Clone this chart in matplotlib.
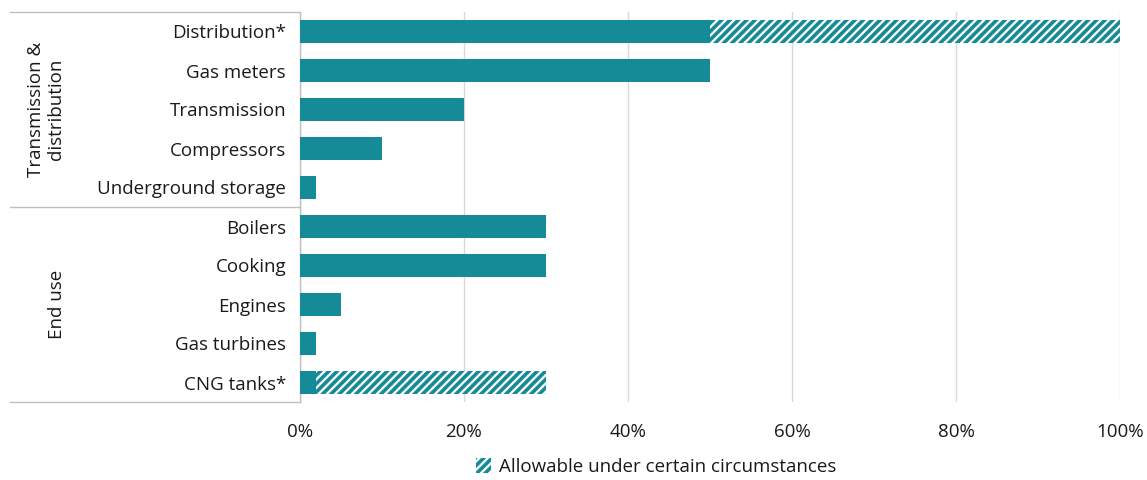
import matplotlib
matplotlib.use("Agg")
import matplotlib.pyplot as plt
import matplotlib.transforms as mtransforms
from matplotlib.lines import Line2D
from matplotlib.patches import Patch

plt.rcParams['font.family'] = ['Open Sans', 'DejaVu Sans']
plt.rcParams['hatch.linewidth'] = 2.6

categories = ["Distribution*", "Gas meters", "Transmission", "Compressors", "Underground storage",
              "Boilers", "Cooking", "Engines", "Gas turbines", "CNG tanks*"]
base_values = [50, 50, 20, 10, 2, 30, 30, 5, 2, 2]
allowable_values = [50, 0, 0, 0, 0, 0, 0, 0, 0, 28]
groups = ["Transmission &\ndistribution", "End use"]
group_sizes = [5, 5]
x_ticks = [0, 20, 40, 60, 80, 100]
x_tick_labels = ["0%", "20%", "40%", "60%", "80%", "100%"]
legend_label = "Allowable under certain circumstances"

teal = "#158B98"
grid_c = "#D9D9D9"
text_c = "#1a1a1a"
fs = 13.5

fig = plt.figure(figsize=(11.47, 4.8), dpi=100)
ax = fig.add_axes([300/1147, 1-402/480, 820/1147, 390/480])

y = list(range(len(categories)))
ax.barh(y, base_values, height=0.57, color=teal, zorder=3)
ax.barh(y, allowable_values, left=base_values, height=0.57, facecolor="white",
        edgecolor=teal, hatch="////", linewidth=0, zorder=3)

ax.set_ylim(len(categories) - 0.5, -0.5)
ax.set_xlim(0, 100)
ax.set_yticks(y)
ax.set_yticklabels(categories, fontsize=fs, color=text_c)
ax.set_xticks(x_ticks)
ax.set_xticklabels(x_tick_labels, fontsize=fs, color=text_c)
ax.tick_params(axis='both', length=0)
ax.tick_params(axis='y', pad=10)
ax.tick_params(axis='x', pad=15)
ax.grid(axis='x', color=grid_c, linewidth=1, zorder=0)
for s in ['top', 'right', 'bottom']:
    ax.spines[s].set_visible(False)
ax.spines['left'].set_color("#BFBFBF")
ax.spines['left'].set_linewidth(1)

# group separators and labels
trans = mtransforms.blended_transform_factory(ax.transAxes, ax.transData)
x0 = (10 - 300) / 820
start = -0.5
bounds = [start]
for n in group_sizes:
    start += n
    bounds.append(start)
for b in bounds:
    ax.add_line(Line2D([x0, 0], [b, b], transform=trans, color="#BFBFBF", linewidth=1, clip_on=False))
label_x = [(46 - 300) / 820, (57 - 300) / 820]
for g, lx, a, b in zip(groups, label_x, bounds[:-1], bounds[1:]):
    ax.text(lx, (a + b) / 2, g, transform=trans, rotation=90, ha='center', va='center',
            fontsize=fs, color=text_c, linespacing=1.1)

handle = Patch(facecolor="white", edgecolor=teal, hatch="////", linewidth=0)
fig.legend([handle], [legend_label], loc='center', bbox_to_anchor=(656/1147, 1 - 467/480),
           frameon=False, fontsize=fs, handlelength=0.8, handleheight=0.8, handletextpad=0.4,
           labelcolor=text_c)

fig.savefig("out.png", dpi=100)
